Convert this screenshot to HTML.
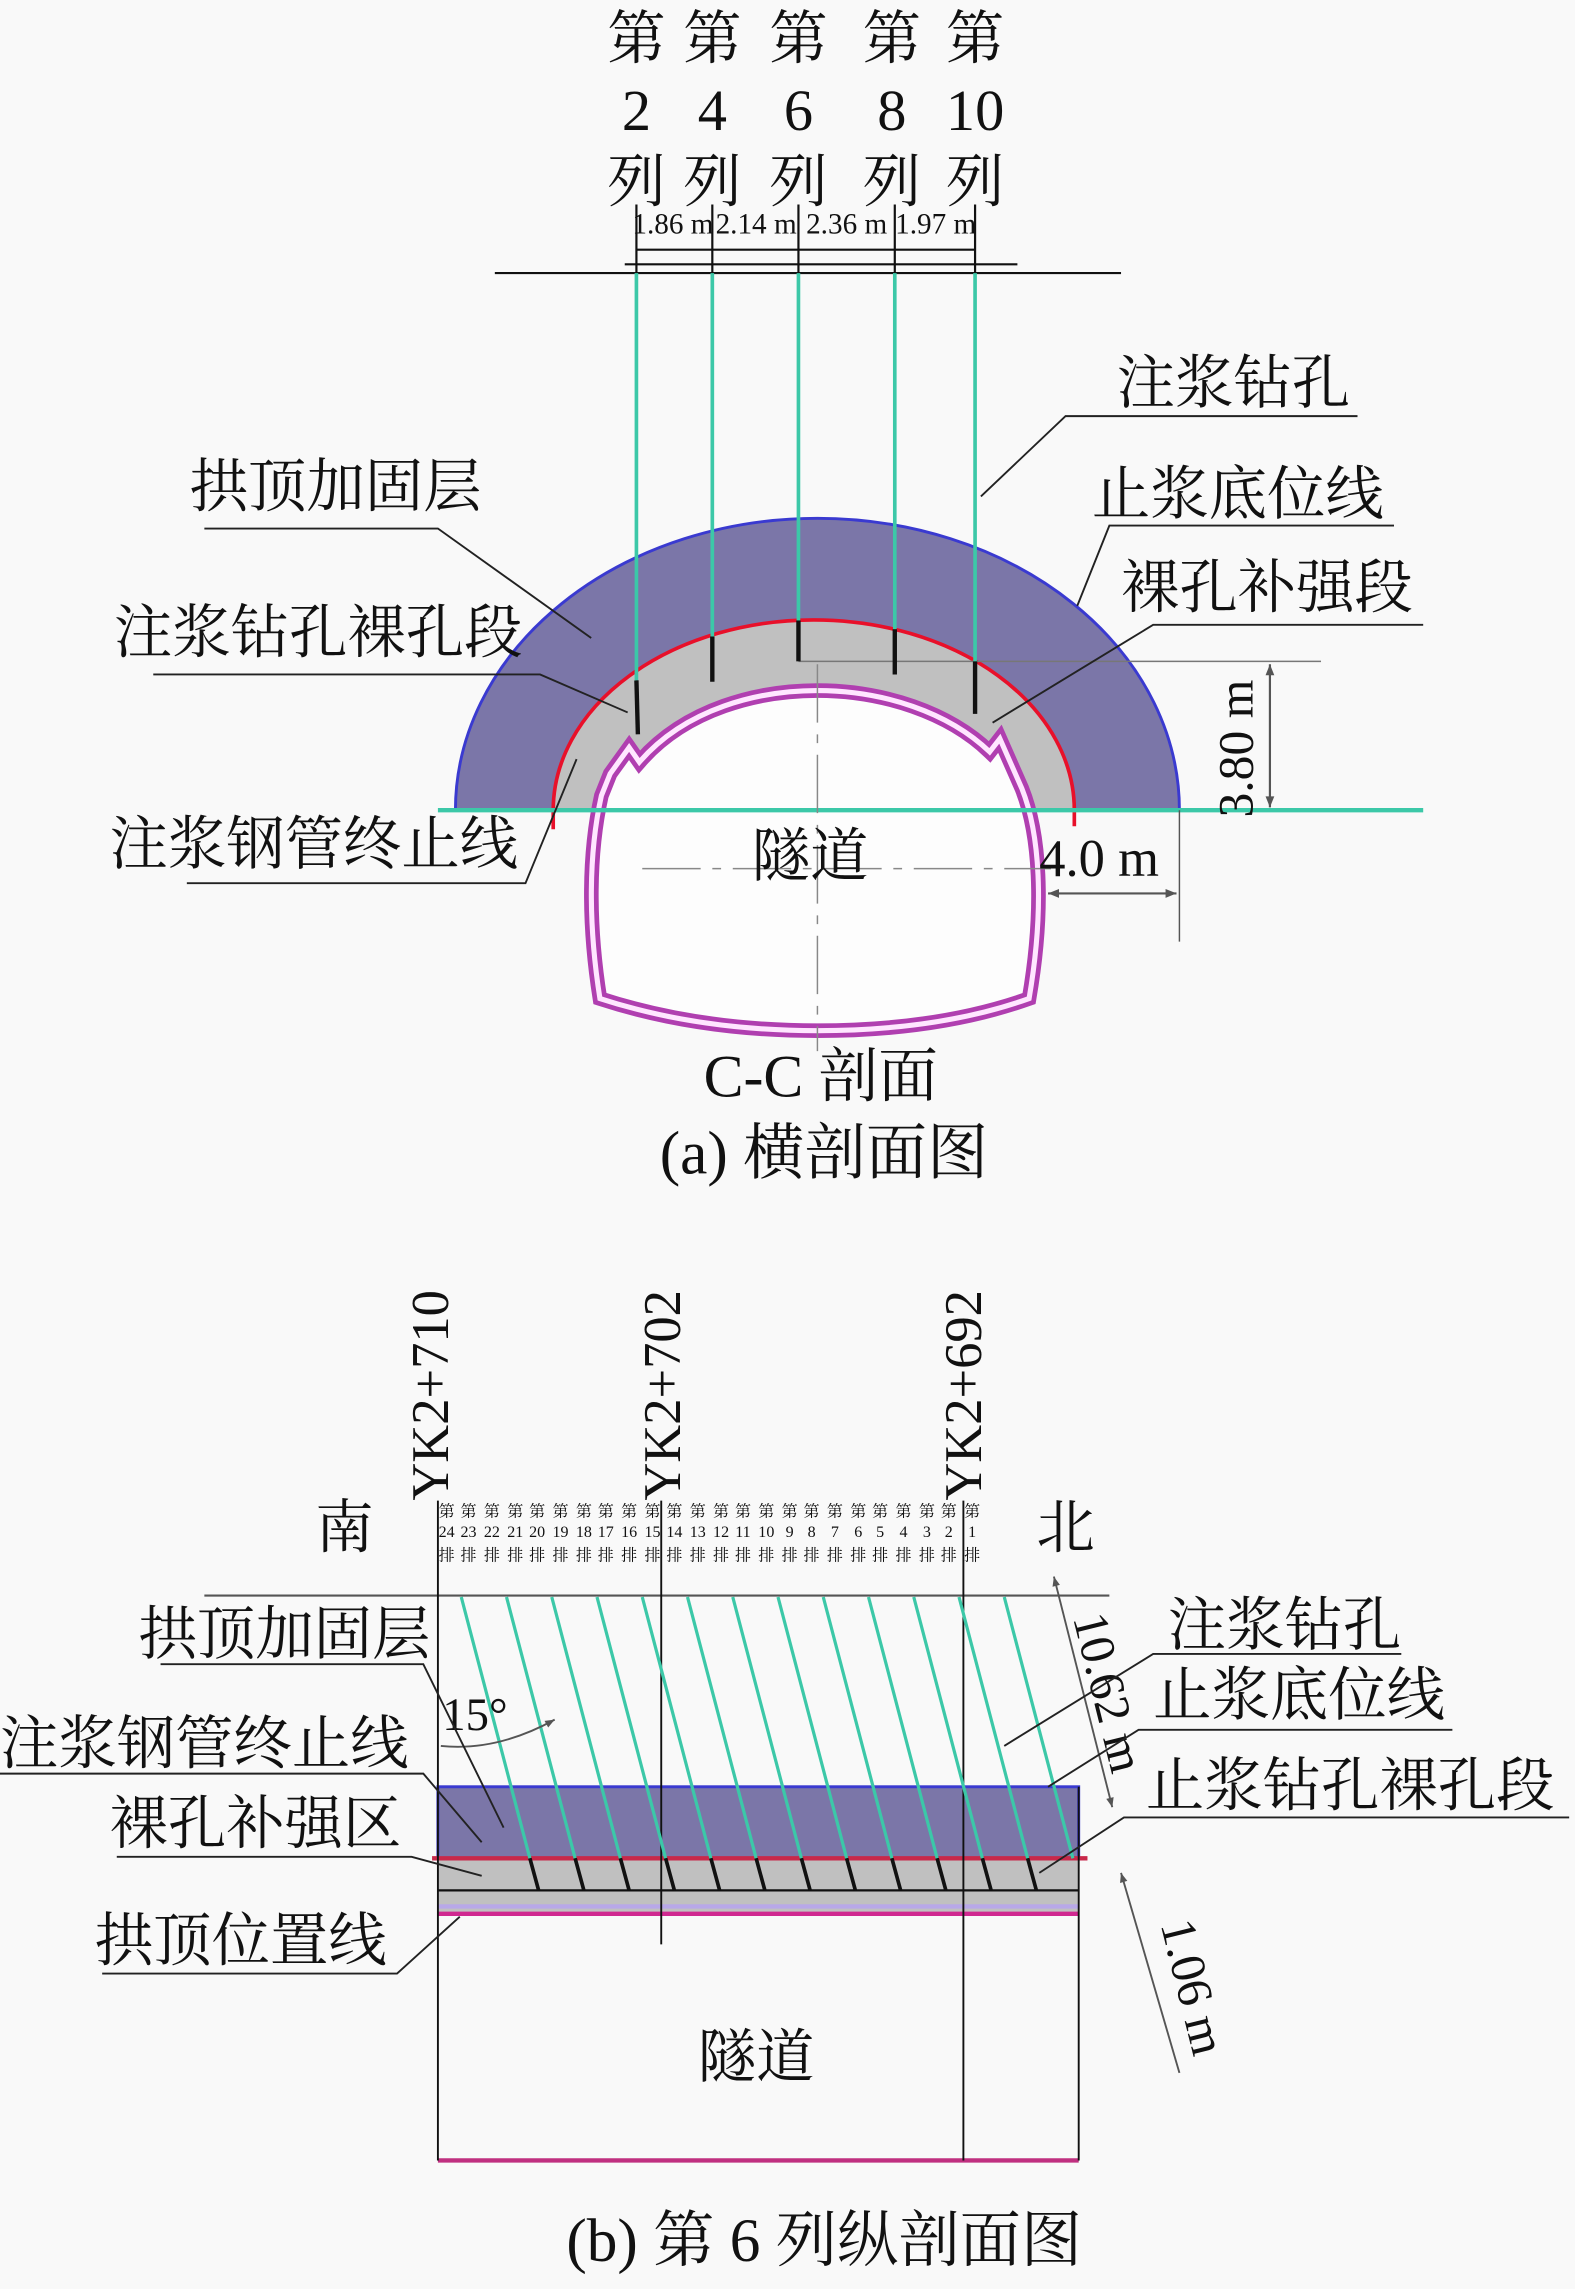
<!DOCTYPE html>
<html><head><meta charset="utf-8"><style>
html,body{margin:0;padding:0;background:#f9f9f9;}
svg{display:block;}
text{font-family:"Liberation Serif","Noto Serif CJK SC","Noto Sans CJK SC",serif;fill:#111;}
</style></head><body>
<svg width="1575" height="2289" viewBox="0 0 1079 1568" xmlns="http://www.w3.org/2000/svg">
<defs>
<marker id="ar" viewBox="0 0 10 10" refX="10" refY="5" markerWidth="7" markerHeight="5" orient="auto-start-reverse"><path d="M0,1 L10,5 L0,9 z" fill="#555"/></marker>
</defs>
<rect width="1079" height="1568" fill="#f9f9f9"/>

<!-- ===== (a) ===== -->
<g font-size="40" text-anchor="middle">
<text x="436" y="40">第</text><text x="488" y="40">第</text><text x="547" y="40">第</text><text x="611" y="40">第</text><text x="668" y="40">第</text>
<text x="436" y="89">2</text><text x="488" y="89">4</text><text x="547" y="89">6</text><text x="611" y="89">8</text><text x="668" y="89">10</text>
<text x="436" y="138">列</text><text x="488" y="138">列</text><text x="547" y="138">列</text><text x="611" y="138">列</text><text x="668" y="138">列</text>
</g>
<g font-size="20" text-anchor="middle">
<text x="461" y="160">1.86 m</text><text x="518" y="160">2.14 m</text><text x="580" y="160">2.36 m</text><text x="641" y="160">1.97 m</text>
</g>
<g stroke="#111" stroke-width="1.5">
<line x1="428" y1="181" x2="697" y2="181"/>
<line x1="339" y1="187" x2="768" y2="187"/>
<line x1="436" y1="171" x2="668" y2="171"/>
<line x1="436" y1="140" x2="436" y2="187"/><line x1="488" y1="140" x2="488" y2="187"/><line x1="547" y1="140" x2="547" y2="187"/><line x1="613" y1="140" x2="613" y2="187"/><line x1="668" y1="140" x2="668" y2="187"/>
</g>

<path d="M312,555 A248,200 0 0 1 808,555 Z" fill="#7b76a8" stroke="#3a3ad0" stroke-width="2"/>
<path d="M379,555 A178,130 0 0 1 736,555 Z" fill="#c0c0c0"/>
<path d="M379,568 L379,555 A178,130 0 0 1 736,555 L736,566" fill="none" stroke="#e8102a" stroke-width="2.5"/>
<path d="M411,684 C404,640 402,590 412,545 L418,530 L431,512 L438,522 C470,485 520,473 560,473 C605,473 650,488 678,515 L685,506 L700,540 C712,570 716,620 705,684 C660,700 610,706 560,706 C510,706 460,700 411,684 Z" fill="#fdfdfd" stroke="#b03fb0" stroke-width="10"/>
<path d="M411,684 C404,640 402,590 412,545 L418,530 L431,512 L438,522 C470,485 520,473 560,473 C605,473 650,488 678,515 L685,506 L700,540 C712,570 716,620 705,684 C660,700 610,706 560,706 C510,706 460,700 411,684 Z" fill="none" stroke="#ffe6ff" stroke-width="3.5"/>
<line x1="300" y1="555" x2="975" y2="555" stroke="#3cc8a8" stroke-width="3"/>
<g stroke="#888" stroke-width="1" stroke-dasharray="40,8,6,8">
<line x1="560" y1="455" x2="560" y2="720"/>
<line x1="440" y1="595" x2="720" y2="595"/>
</g>
<line x1="547" y1="453" x2="905" y2="453" stroke="#777" stroke-width="1"/>
<g stroke="#3cc8a8" stroke-width="2.5">
<line x1="436" y1="187" x2="436" y2="466"/><line x1="488" y1="187" x2="488" y2="436"/><line x1="547" y1="187" x2="547" y2="425"/><line x1="613" y1="187" x2="613" y2="431"/><line x1="668" y1="187" x2="668" y2="453"/>
</g>
<g stroke="#111" stroke-width="3">
<line x1="436" y1="466" x2="437" y2="503"/><line x1="488" y1="436" x2="488" y2="467"/><line x1="547" y1="425" x2="547" y2="453"/><line x1="613" y1="431" x2="613" y2="462"/><line x1="668" y1="453" x2="668" y2="489"/>
</g>
<line x1="870" y1="455" x2="870" y2="553" stroke="#555" stroke-width="1.5" marker-start="url(#ar)" marker-end="url(#ar)"/>
<text x="0" y="0" font-size="34" transform="translate(858,560) rotate(-90)">3.80 m</text>
<line x1="808" y1="555" x2="808" y2="645" stroke="#555" stroke-width="1"/>
<line x1="718" y1="612" x2="806" y2="612" stroke="#555" stroke-width="1.5" marker-start="url(#ar)" marker-end="url(#ar)"/>
<text x="712" y="600" font-size="36">4.0 m</text>

<g font-size="40">
<text x="765" y="276">注浆钻孔</text>
<text x="748" y="352">止浆底位线</text>
<text x="768" y="416">裸孔补强段</text>
<text x="130" y="347">拱顶加固层</text>
<text x="78" y="447">注浆钻孔裸孔段</text>
<text x="75" y="592">注浆钢管终止线</text>
<text x="515" y="600">隧道</text>
<text x="482" y="751" font-size="41">C-C 剖面</text>
<text x="452" y="804" font-size="42">(a) 横剖面图</text>
</g>
<g stroke="#222" stroke-width="1.3" fill="none">
<polyline points="672,340 730,285 930,285"/>
<polyline points="738,415 760,360 955,360"/>
<polyline points="680,495 790,428 975,428"/>
<polyline points="405,437 300,362 140,362"/>
<polyline points="430,488 370,462 105,462"/>
<polyline points="395,520 360,605 128,605"/>
</g>

<!-- ===== (b) ===== -->
<g font-size="36">
<text transform="translate(307,1028) rotate(-90)">YK2+710</text>
<text transform="translate(466,1028) rotate(-90)">YK2+702</text>
<text transform="translate(672,1028) rotate(-90)">YK2+692</text>
</g>
<text x="216" y="1060" font-size="40">南</text>
<text x="710" y="1060" font-size="40">北</text>
<g font-size="11" text-anchor="middle">
<text x="306" y="1039">第</text><text x="306" y="1053">24</text><text x="306" y="1069">排</text>
<text x="321" y="1039">第</text><text x="321" y="1053">23</text><text x="321" y="1069">排</text>
<text x="337" y="1039">第</text><text x="337" y="1053">22</text><text x="337" y="1069">排</text>
<text x="353" y="1039">第</text><text x="353" y="1053">21</text><text x="353" y="1069">排</text>
<text x="368" y="1039">第</text><text x="368" y="1053">20</text><text x="368" y="1069">排</text>
<text x="384" y="1039">第</text><text x="384" y="1053">19</text><text x="384" y="1069">排</text>
<text x="400" y="1039">第</text><text x="400" y="1053">18</text><text x="400" y="1069">排</text>
<text x="415" y="1039">第</text><text x="415" y="1053">17</text><text x="415" y="1069">排</text>
<text x="431" y="1039">第</text><text x="431" y="1053">16</text><text x="431" y="1069">排</text>
<text x="447" y="1039">第</text><text x="447" y="1053">15</text><text x="447" y="1069">排</text>
<text x="462" y="1039">第</text><text x="462" y="1053">14</text><text x="462" y="1069">排</text>
<text x="478" y="1039">第</text><text x="478" y="1053">13</text><text x="478" y="1069">排</text>
<text x="494" y="1039">第</text><text x="494" y="1053">12</text><text x="494" y="1069">排</text>
<text x="509" y="1039">第</text><text x="509" y="1053">11</text><text x="509" y="1069">排</text>
<text x="525" y="1039">第</text><text x="525" y="1053">10</text><text x="525" y="1069">排</text>
<text x="541" y="1039">第</text><text x="541" y="1053">9</text><text x="541" y="1069">排</text>
<text x="556" y="1039">第</text><text x="556" y="1053">8</text><text x="556" y="1069">排</text>
<text x="572" y="1039">第</text><text x="572" y="1053">7</text><text x="572" y="1069">排</text>
<text x="588" y="1039">第</text><text x="588" y="1053">6</text><text x="588" y="1069">排</text>
<text x="603" y="1039">第</text><text x="603" y="1053">5</text><text x="603" y="1069">排</text>
<text x="619" y="1039">第</text><text x="619" y="1053">4</text><text x="619" y="1069">排</text>
<text x="635" y="1039">第</text><text x="635" y="1053">3</text><text x="635" y="1069">排</text>
<text x="650" y="1039">第</text><text x="650" y="1053">2</text><text x="650" y="1069">排</text>
<text x="666" y="1039">第</text><text x="666" y="1053">1</text><text x="666" y="1069">排</text>
</g>

<rect x="300" y="1224" width="439" height="49" fill="#7b76a8" stroke="#3a3ad0" stroke-width="2"/>
<rect x="300" y="1273" width="439" height="38" fill="#c0c0c0"/>
<line x1="300" y1="1295" x2="739" y2="1295" stroke="#111" stroke-width="1.5"/>
<line x1="300" y1="1306" x2="739" y2="1306" stroke="#b8a8e8" stroke-width="3"/>
<line x1="300" y1="1311" x2="739" y2="1311" stroke="#d02890" stroke-width="3"/>
<line x1="296" y1="1273" x2="745" y2="1273" stroke="#c8284a" stroke-width="3"/>
<line x1="300" y1="1480" x2="739" y2="1480" stroke="#c03080" stroke-width="3"/>
<line x1="140" y1="1093" x2="760" y2="1093" stroke="#555" stroke-width="1.5"/>
<g stroke="#111" stroke-width="1.3">
<line x1="300" y1="1028" x2="300" y2="1480"/>
<line x1="739" y1="1224" x2="739" y2="1480"/>
<line x1="453" y1="1028" x2="453" y2="1332"/>
<line x1="660" y1="1028" x2="660" y2="1480"/>
</g>
<g stroke="#3cc8a8" stroke-width="2.2">
<line x1="316" y1="1094" x2="363" y2="1273"/><line x1="347" y1="1094" x2="394" y2="1273"/><line x1="378" y1="1094" x2="425" y2="1273"/><line x1="409" y1="1094" x2="456" y2="1273"/><line x1="440" y1="1094" x2="487" y2="1273"/><line x1="471" y1="1094" x2="518" y2="1273"/><line x1="502" y1="1094" x2="549" y2="1273"/><line x1="533" y1="1094" x2="580" y2="1273"/><line x1="564" y1="1094" x2="611" y2="1273"/><line x1="595" y1="1094" x2="642" y2="1273"/><line x1="626" y1="1094" x2="673" y2="1273"/><line x1="657" y1="1094" x2="704" y2="1273"/><line x1="688" y1="1094" x2="735" y2="1273"/>
</g>
<g stroke="#111" stroke-width="2.5">
<line x1="363" y1="1273" x2="369" y2="1295"/><line x1="394" y1="1273" x2="400" y2="1295"/><line x1="425" y1="1273" x2="431" y2="1295"/><line x1="456" y1="1273" x2="462" y2="1295"/><line x1="487" y1="1273" x2="493" y2="1295"/><line x1="518" y1="1273" x2="524" y2="1295"/><line x1="549" y1="1273" x2="555" y2="1295"/><line x1="580" y1="1273" x2="586" y2="1295"/><line x1="611" y1="1273" x2="617" y2="1295"/><line x1="642" y1="1273" x2="648" y2="1295"/><line x1="673" y1="1273" x2="679" y2="1295"/><line x1="704" y1="1273" x2="710" y2="1295"/>
</g>
<text x="303" y="1185" font-size="32">15°</text>
<path d="M302,1196 Q340,1200 380,1178" fill="none" stroke="#555" stroke-width="1.3" marker-end="url(#ar)"/>
<line x1="722" y1="1080" x2="762" y2="1238" stroke="#555" stroke-width="1.3" marker-start="url(#ar)" marker-end="url(#ar)"/>
<text transform="translate(735,1108) rotate(76)" font-size="34">10.62 m</text>
<line x1="768" y1="1283" x2="808" y2="1420" stroke="#555" stroke-width="1.3" marker-start="url(#ar)"/>
<text transform="translate(795,1318) rotate(76)" font-size="34">1.06 m</text>

<g font-size="40">
<text x="95" y="1133">拱顶加固层</text>
<text x="0" y="1208">注浆钢管终止线</text>
<text x="75" y="1263">裸孔补强区</text>
<text x="65" y="1343">拱顶位置线</text>
<text x="800" y="1127">注浆钻孔</text>
<text x="790" y="1175">止浆底位线</text>
<text x="785" y="1237">止浆钻孔裸孔段</text>
<text x="478" y="1423">隧道</text>
<text x="388" y="1549" font-size="42">(b) 第 6 列纵剖面图</text>
</g>
<g stroke="#222" stroke-width="1.3" fill="none">
<polyline points="345,1252 290,1140 110,1140"/>
<polyline points="330,1262 290,1215 0,1215"/>
<polyline points="330,1285 282,1272 80,1272"/>
<polyline points="315,1313 272,1352 70,1352"/>
<polyline points="688,1196 790,1133 960,1133"/>
<polyline points="718,1224 780,1185 995,1185"/>
<polyline points="712,1283 770,1245 1075,1245"/>
</g>
</svg>
</body></html>
